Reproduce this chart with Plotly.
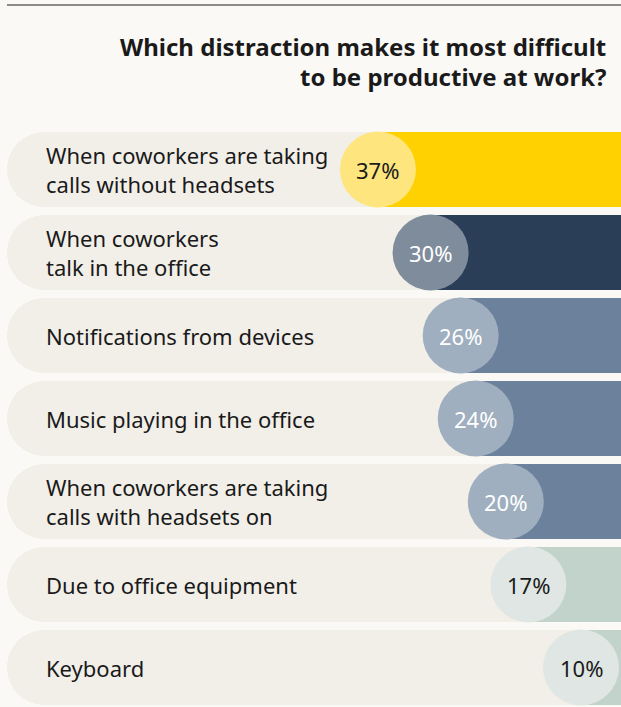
import plotly.graph_objects as go

# ---- data ----
categories = [
    "When coworkers are taking<br>calls without headsets",
    "When coworkers<br>talk in the office",
    "Notifications from devices",
    "Music playing in the office",
    "When coworkers are taking<br>calls with headsets on",
    "Due to office equipment",
    "Keyboard",
]
values = [37, 30, 26, 24, 20, 17, 10]
value_labels = ["37%", "30%", "26%", "24%", "20%", "17%", "10%"]
title_lines = ["Which distraction makes it most difficult", "to be productive at work?"]

# ---- styles ----
bar_colors = ["#ffd100", "#2b3e58", "#6b819c", "#6b819c", "#6b819c", "#c2d3cb", "#c2d3cb"]
circle_colors = ["#ffe57d", "#7f8c9c", "#9fafc0", "#9fafc0", "#9fafc0", "#dfe6e3", "#dfe6e3"]
pct_text_colors = ["#1a1a1a", "#ffffff", "#ffffff", "#ffffff", "#ffffff", "#1a1a1a", "#1a1a1a"]
PAGE_BG = "#faf9f6"
PILL_BG = "#f2efe9"
TEXT = "#1a1a1a"
FONT = "Noto Sans"

W, H = 621, 707
ZERO_PX = 656.2       # pixel x of 0 %
PX_PER_PCT = 7.52     # pixels per percentage point (bars grow leftwards)
ROW0_PX = 169.5       # pixel y of first row center
ROW_STEP_PX = 83.0    # pixel distance between rows
ROW_H_PX = 75.0
CIRCLE_PX = 76
PILL_LEFT_PX = 7
LABEL_LEFT_PX = 44

def px_to_x(px):
    return (ZERO_PX - px) / PX_PER_PCT

def py_to_y(py):
    return (py - ROW0_PX) / ROW_STEP_PX

n = len(categories)
rows = list(range(n))
pill_left = px_to_x(PILL_LEFT_PX)
pill_base = -10
bar_w = ROW_H_PX / ROW_STEP_PX

fig = go.Figure()

# background pills
fig.add_trace(go.Bar(
    orientation="h", y=rows, x=[pill_left - pill_base] * n, base=[pill_base] * n,
    width=[bar_w] * n, marker=dict(color=PILL_BG, cornerradius=38, line=dict(width=0)),
    hoverinfo="skip", showlegend=False,
))
# value bars
fig.add_trace(go.Bar(
    orientation="h", y=rows, x=[v - pill_base for v in values], base=[pill_base] * n,
    width=[bar_w] * n, marker=dict(color=bar_colors, line=dict(width=0)),
    hoverinfo="skip", showlegend=False,
))
# circles
fig.add_trace(go.Scatter(
    x=values, y=rows, mode="markers",
    marker=dict(size=CIRCLE_PX, color=circle_colors, line=dict(width=0)),
    hoverinfo="skip", showlegend=False, cliponaxis=False,
))

annotations = []
for i, (v, t, c) in enumerate(zip(values, value_labels, pct_text_colors)):
    annotations.append(dict(
        x=v, y=i, xref="x", yref="y", text=t, showarrow=False,
        xanchor="center", yanchor="middle",
        font=dict(family=FONT, size=22, color=c),
    ))
for i, lab in enumerate(categories):
    annotations.append(dict(
        x=px_to_x(LABEL_LEFT_PX), y=i, xref="x", yref="y", text=lab,
        showarrow=False, xanchor="left", yanchor="middle", align="left",
        font=dict(family=FONT, size=22, color=TEXT),
    ))
title_y_px = [46, 77]
for line, ypx in zip(title_lines, title_y_px):
    annotations.append(dict(
        x=608 / W, y=1 - ypx / H, xref="paper", yref="paper", text="<b>" + line + "</b>",
        showarrow=False, xanchor="right", yanchor="middle", align="right",
        font=dict(family=FONT, size=24, color=TEXT),
    ))

fig.update_layout(
    width=W, height=H, margin=dict(l=0, r=0, t=0, b=0),
    paper_bgcolor=PAGE_BG, plot_bgcolor=PAGE_BG,
    barmode="overlay", bargap=0,
    xaxis=dict(range=[px_to_x(0), px_to_x(W)], visible=False, fixedrange=True),
    yaxis=dict(range=[py_to_y(H), py_to_y(0)], visible=False, fixedrange=True),
    annotations=annotations,
    shapes=[dict(type="line", xref="paper", yref="paper", x0=7 / W, x1=1,
                 y0=1 - 5 / H, y1=1 - 5 / H, line=dict(color="#8a8a8a", width=2))],
    showlegend=False,
)

fig.write_html("out.html")
